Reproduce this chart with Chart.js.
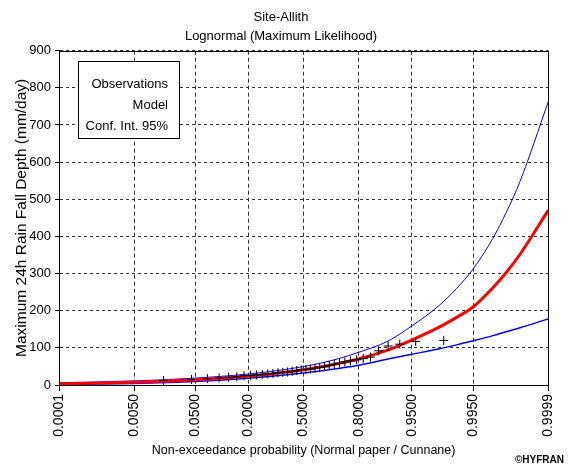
<!DOCTYPE html>
<html>
<head>
<meta charset="utf-8">
<script src="https://cdn.jsdelivr.net/npm/chart.js@4.4.1/dist/chart.umd.min.js"></script>
<style>
  html, body { margin: 0; padding: 0; background: #fff; }
  #wrap { width: 568px; height: 466px; }
</style>
</head>
<body>
<div id="wrap"><canvas id="chart"></canvas></div>
<script>
// Axe des probabilités (papier normal)
const probTicks = [0.0001, 0.005, 0.05, 0.2, 0.5, 0.8, 0.95, 0.995, 0.9999];
const probLabels = ['0.0001', '0.0050', '0.0500', '0.2000', '0.5000', '0.8000', '0.9500', '0.9950', '0.9999'];
const yMax = 900;
const yStep = 100;

// Observations (positions de Cunnane)
const obsProb = [0.01657, 0.04420, 0.07182, 0.09945, 0.12707, 0.15470, 0.18232, 0.20994, 0.23757,
                 0.26519, 0.29282, 0.32044, 0.34807, 0.37569, 0.40331, 0.43094, 0.45856, 0.48619,
                 0.51381, 0.54144, 0.56906, 0.59669, 0.62431, 0.65193, 0.67956, 0.70718, 0.73481,
                 0.76243, 0.79006, 0.81768, 0.84530, 0.87293, 0.90055, 0.92818, 0.95580, 0.98343];
const obsValue = [12, 15, 17, 19, 21, 22, 25, 26, 27,
                  28, 30, 31, 33, 34, 35, 37, 39, 41,
                  42, 43, 45, 47, 49, 53, 56, 59, 62,
                  65, 68, 71, 75, 92, 105, 110, 117, 120];

// Modele lognormal et intervalle de confiance 95%
const modelProb = [0.0001, 0.0005, 0.001, 0.005, 0.01, 0.02, 0.05, 0.1, 0.2, 0.3, 0.4, 0.5,
                   0.6, 0.7, 0.8, 0.9, 0.95, 0.98, 0.99, 0.995, 0.998, 0.999, 0.9995, 0.9999];
const modelValue = [3.7, 4.8, 5.5, 7.7, 9.0, 10.8, 14.1, 17.8, 23.7, 29.2, 34.8, 41,
                    48.3, 57.6, 70.8, 94, 121, 155, 182, 210, 262, 305, 352, 470];
const upperValue = [5.9, 7.4, 8.3, 11.1, 12.7, 14.8, 18.7, 22.9, 29.5, 35.8, 42.3, 49.7,
                    58.7, 70.6, 88.3, 118, 159, 213, 260, 312, 395, 468, 548, 762];
const lowerValue = [1.5, 2.2, 2.7, 4.3, 5.3, 6.8, 9.5, 12.7, 17.9, 22.6, 27.3, 32.3,
                    37.9, 44.6, 53.3, 70, 83, 97, 108, 119, 133, 144, 154, 178];

// Inverse de la loi normale (Acklam)
function probit(p) {
    const a = [-3.969683028665376e+01, 2.209460984245205e+02, -2.759285104469687e+02, 1.383577518672690e+02, -3.066479806614716e+01, 2.506628277459239e+00];
    const b = [-5.447609879822406e+01, 1.615858368580409e+02, -1.556989798598866e+02, 6.680131188771972e+01, -1.328068155288572e+01];
    const c = [-7.784894002430293e-03, -3.223964580411365e-01, -2.400758277161838e+00, -2.549671472010070e+00, 4.374664141464968e+00, 2.938163982698783e+00];
    const d = [7.784695709041462e-03, 3.224671290700398e-01, 2.445134137142996e+00, 3.754408661907416e+00];
    const pl = 0.02425;
    let q, r;
    if (p < pl) {
        q = Math.sqrt(-2 * Math.log(p));
        return (((((c[0]*q + c[1])*q + c[2])*q + c[3])*q + c[4])*q + c[5]) / ((((d[0]*q + d[1])*q + d[2])*q + d[3])*q + 1);
    }
    if (p > 1 - pl) {
        q = Math.sqrt(-2 * Math.log(1 - p));
        return -(((((c[0]*q + c[1])*q + c[2])*q + c[3])*q + c[4])*q + c[5]) / ((((d[0]*q + d[1])*q + d[2])*q + d[3])*q + 1);
    }
    q = p - 0.5;
    r = q * q;
    return (((((a[0]*r + a[1])*r + a[2])*r + a[3])*r + a[4])*r + a[5])*q / (((((b[0]*r + b[1])*r + b[2])*r + b[3])*r + b[4])*r + 1);
}

function toPoints(probs, values) {
    return probs.map((p, i) => ({ x: probit(p), y: values[i] }));
}

// Cadre + boite de legende + copyright
const hyfranDecor = {
    id: 'hyfranDecor',
    afterDraw(chart) {
        const ctx = chart.ctx;
        const area = chart.chartArea;
        ctx.save();
        ctx.strokeStyle = '#000';
        ctx.lineWidth = 1;
        ctx.strokeRect(Math.round(area.left) + 0.5, Math.round(area.top) + 0.5,
                       Math.round(area.right - area.left), Math.round(area.bottom - area.top));

        // boite "legende"
        ctx.fillStyle = '#fff';
        ctx.fillRect(78, 61, 101, 77);
        ctx.strokeRect(78.5, 61.5, 101, 77);
        ctx.fillStyle = '#000';
        ctx.font = '13px "Liberation Sans", Arial, sans-serif';
        ctx.textAlign = 'right';
        ctx.textBaseline = 'middle';
        ctx.fillText('Observations', 168, 84);
        ctx.fillText('Model', 168, 105);
        ctx.fillText('Conf. Int. 95%', 168, 126);

        ctx.font = 'bold 10px "Liberation Sans", Arial, sans-serif';
        ctx.fillText('\u00A9HYFRAN', 564, 460);
        ctx.restore();
    }
};

const ctx = document.getElementById('chart').getContext('2d');
Chart.defaults.font.family = '"Liberation Sans", Arial, sans-serif';
Chart.defaults.color = '#000';

new Chart(ctx, {
    type: 'line',
    data: {
        datasets: [
            {
                label: 'Observations',
                data: toPoints(obsProb, obsValue),
                showLine: false,
                pointStyle: 'cross',
                pointRadius: 4.5,
                pointBorderWidth: 1,
                borderColor: '#000',
                backgroundColor: '#000'
            },
            {
                label: 'Model',
                data: toPoints(modelProb, modelValue),
                borderColor: '#ff0000',
                borderWidth: 3,
                pointRadius: 0,
                cubicInterpolationMode: 'monotone'
            },
            {
                label: 'Conf. Int. 95% (sup)',
                data: toPoints(modelProb, upperValue),
                borderColor: '#0000ff',
                borderWidth: 1,
                pointRadius: 0,
                cubicInterpolationMode: 'monotone'
            },
            {
                label: 'Conf. Int. 95% (inf)',
                data: toPoints(modelProb, lowerValue),
                borderColor: '#0000ff',
                borderWidth: 1.5,
                pointRadius: 0,
                cubicInterpolationMode: 'monotone'
            }
        ]
    },
    options: {
        responsive: true,
        maintainAspectRatio: false,
        animation: false,
        layout: {
            padding: { top: 3, left: 4, right: 10, bottom: 4 }
        },
        scales: {
            x: {
                type: 'linear',
                min: probit(probTicks[0]),
                max: probit(probTicks[probTicks.length - 1]),
                afterBuildTicks: scale => {
                    scale.ticks = probTicks.map(p => ({ value: probit(p) }));
                },
                afterFit: scale => { scale.height = 77; },
                ticks: {
                    autoSkip: false,
                    maxRotation: 90,
                    minRotation: 90,
                    padding: 3,
                    font: { size: 14 },
                    callback: (value, index) => probLabels[index]
                },
                grid: {
                    color: '#333',
                    tickColor: '#000',
                    tickLength: 6
                },
                border: { color: '#000', dash: [4, 3] },
                title: {
                    display: true,
                    text: 'Non-exceedance probability (Normal paper / Cunnane)',
                    font: { size: 12.5 },
                    padding: { top: 0, bottom: 4 }
                }
            },
            y: {
                min: 0,
                max: yMax,
                afterFit: scale => { scale.width = 55; },
                ticks: {
                    stepSize: yStep,
                    padding: 4,
                    font: { size: 13 }
                },
                grid: {
                    color: '#333',
                    tickColor: '#000',
                    tickLength: 4
                },
                border: { color: '#000', dash: [3, 3] },
                title: {
                    display: true,
                    text: 'Maximum 24h Rain Fall Depth (mm/day)',
                    font: { size: 15.5 },
                    padding: { top: 8, bottom: 0 }
                }
            }
        },
        plugins: {
            legend: { display: false },
            tooltip: { enabled: false },
            title: {
                display: true,
                text: ['Site-Allith', 'Lognormal (Maximum Likelihood)'],
                font: { size: 13, weight: 'normal', lineHeight: 1.45 },
                padding: { top: 5, bottom: 5 }
            }
        }
    },
    plugins: [hyfranDecor]
});
</script>
</body>
</html>
